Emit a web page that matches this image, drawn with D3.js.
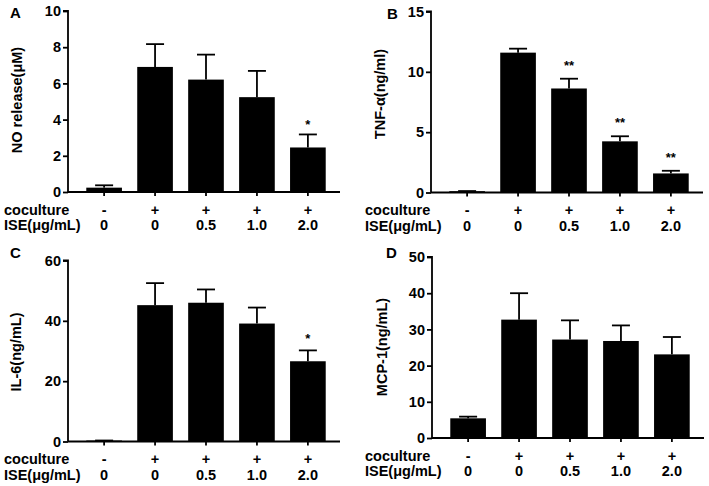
<!DOCTYPE html>
<html><head><meta charset="utf-8">
<script src="https://cdn.jsdelivr.net/npm/d3@7"></script>
<style>body{margin:0;background:#fff}svg{display:block}text{font-family:Arial,"Liberation Sans",sans-serif;font-weight:bold}</style>
</head><body><svg id="c" width="709" height="486"></svg>
<script>
const groups = ["g1","g2","g3","g4","g5"];
const coculture = ["-","+","+","+","+"];
const iseDose = ["0","0","0.5","1.0","2.0"];

const noMean = [0.24, 6.91, 6.21, 5.24, 2.46];
const noErr  = [0.37, 8.17, 7.59, 6.69, 3.18];
const noSig  = ["", "", "", "", "*"];
const noTicks = [0, 2, 4, 6, 8, 10];

const tnfMean = [0.11, 11.59, 8.62, 4.24, 1.58];
const tnfErr  = [0.12, 11.92, 9.43, 4.66, 1.80];
const tnfSig  = ["", "", "**", "**", "**"];
const tnfTicks = [0, 5, 10, 15];

const il6Mean = [0.33, 45.2, 46.0, 39.1, 26.6];
const il6Err  = [0.33, 52.5, 50.4, 44.4, 30.2];
const il6Sig  = ["", "", "", "", "*"];
const il6Ticks = [0, 20, 40, 60];

const mcpMean = [5.44, 32.7, 27.2, 26.8, 23.1];
const mcpErr  = [5.9, 40.0, 32.5, 31.1, 27.9];
const mcpSig  = ["", "", "", "", ""];
const mcpTicks = [0, 10, 20, 30, 40, 50];

const panels = [
  {letter:"A", title:"NO release(μM)", mean:noMean, err:noErr, sig:noSig, ticks:noTicks, max:10,
   x:68, y0:192, lx:10, ly:17.5, tx:22, ty:100, sigGap:12, rowX:4},
  {letter:"B", title:"TNF-α(ng/ml)", mean:tnfMean, err:tnfErr, sig:tnfSig, ticks:tnfTicks, max:15,
   x:431, y0:192.5, lx:387, ly:18.5, tx:385, ty:94, sigGap:15.5, rowX:365},
  {letter:"C", title:"IL-6(ng/mL)", mean:il6Mean, err:il6Err, sig:il6Sig, ticks:il6Ticks, max:60,
   x:68, y0:441.5, lx:10, ly:258, tx:21, ty:352, sigGap:14, rowX:4},
  {letter:"D", title:"MCP-1(ng/mL)", mean:mcpMean, err:mcpErr, sig:mcpSig, ticks:mcpTicks, max:50,
   x:432, y0:438, lx:386, ly:258, tx:387, ty:347, sigGap:14, rowX:365}
];

const svg = d3.select("#c");
const H = 181, W = 273;

panels.forEach(p => {
  const g = svg.append("g");
  const y = d3.scaleLinear().domain([0, p.max]).range([p.y0, p.y0 - H]);
  const x = d3.scaleBand().domain(groups).range([p.x + 3, p.x + W]).paddingInner(0.3).paddingOuter(0.3);

  g.selectAll("rect.bar").data(groups).enter().append("rect")
    .attr("x", d => x(d)).attr("width", x.bandwidth())
    .attr("y", (d,i) => y(p.mean[i])).attr("height", (d,i) => p.y0 - y(p.mean[i]))
    .attr("fill", "#000");

  groups.forEach((d,i) => {
    const cx = x(d) + x.bandwidth()/2;
    g.append("line").attr("x1", cx).attr("x2", cx).attr("y1", y(p.mean[i])).attr("y2", y(p.err[i]))
      .attr("stroke", "#000").attr("stroke-width", 1.8);
    g.append("line").attr("x1", cx - 9).attr("x2", cx + 9).attr("y1", y(p.err[i])).attr("y2", y(p.err[i]))
      .attr("stroke", "#000").attr("stroke-width", 1.8);
    if (p.sig[i]) {
      g.append("text").attr("x", cx).attr("y", y(p.err[i]) - p.sigGap + 6.5)
        .attr("text-anchor", "middle").attr("font-size", 13).text(p.sig[i]);
    }
  });

  const ya = d3.axisLeft(y).tickValues(p.ticks).tickSize(5).tickPadding(2).tickFormat(d3.format("d"));
  const yg = g.append("g").attr("transform", `translate(${p.x},0)`).call(ya);
  yg.select(".domain").attr("stroke-width", 1.8).attr("d", `M-5,${y(p.max)}H0V${p.y0}`);
  yg.selectAll(".tick line").attr("stroke-width", 1.8);
  yg.selectAll("text").attr("font-size", 14.5).attr("font-family", "Arial, 'Liberation Sans', sans-serif").attr("font-weight", "bold").attr("fill", "#000");

  const xa = d3.axisBottom(x).tickSize(4).tickFormat("");
  const xg = g.append("g").attr("transform", `translate(0,${p.y0})`).call(xa);
  xg.select(".domain").attr("stroke-width", 1.8).attr("d", `M${p.x},0H${p.x + W - 1}`);
  xg.selectAll(".tick line").attr("stroke-width", 1.8);

  const r1 = p.y0 + 22.5, r2 = p.y0 + 38;
  g.append("text").attr("x", p.rowX).attr("y", r1).attr("font-size", 14.5).text("coculture");
  g.append("text").attr("x", p.rowX).attr("y", r2).attr("font-size", 14.5).text("ISE(μg/mL)");
  groups.forEach((d,i) => {
    const cx = x(d) + x.bandwidth()/2;
    g.append("text").attr("x", cx).attr("y", r1).attr("text-anchor","middle").attr("font-size", 14.5).text(coculture[i]);
    g.append("text").attr("x", cx).attr("y", r2).attr("text-anchor","middle").attr("font-size", 14.5).text(iseDose[i]);
  });

  g.append("text").attr("transform", `translate(${p.tx},${p.ty}) rotate(-90)`)
    .attr("text-anchor","middle").attr("font-size", 14.5).text(p.title);
  g.append("text").attr("x", p.lx).attr("y", p.ly).attr("font-size", 15).text(p.letter);
});
</script></body></html>
